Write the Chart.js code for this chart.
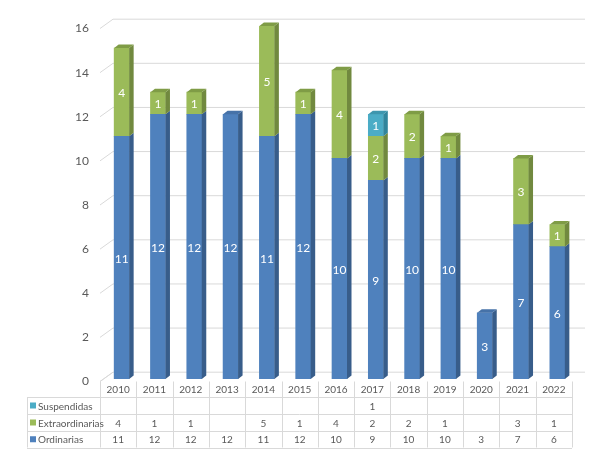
<!DOCTYPE html>
<html><head><meta charset="utf-8">
<script src="https://cdn.jsdelivr.net/npm/chart.js@4/dist/chart.umd.min.js"></script>
<style>html,body{margin:0;padding:0;background:#fff;}canvas{display:block;}</style>
</head><body>
<canvas id="c" width="605" height="455"></canvas>
<script>
const categories = ['2010','2011','2012','2013','2014','2015','2016','2017','2018','2019','2020','2021','2022'];
const ordinarias = [11,12,12,12,11,12,10,9,10,10,3,7,6];
const extraordinarias = [4,1,1,null,5,1,4,2,2,1,null,3,1];
const suspendidas = [null,null,null,null,null,null,null,1,null,null,null,null,null];
const seriesNames = ['Ordinarias','Extraordinarias','Suspendidas'];
const yTicks = [0,2,4,6,8,10,12,14,16];

const FONT = 'Lato, "Liberation Sans", sans-serif';
const colors = [
  {front:'#4F81BD', side:'#385D8A', top:'#4672A8'},
  {front:'#9BBB59', side:'#71893F', top:'#7F9C46'},
  {front:'#4BACC6', side:'#31859C', top:'#3E96AE'}
];

const threeD = {
  id:'threeD',
  beforeDatasetsDraw(chart){
    const ctx = chart.ctx, ca = chart.chartArea, y = chart.scales.y;
    const fx = ca.left - 3.5, bx = fx + 13;
    ctx.save();
    ctx.strokeStyle = '#d9d9d9'; ctx.lineWidth = 1;
    ctx.fillStyle = '#595959'; ctx.font = '12px ' + FONT;
    ctx.textAlign = 'right'; ctx.textBaseline = 'middle';
    yTicks.forEach(v => {
      const p = y.getPixelForValue(v);
      ctx.beginPath();
      ctx.moveTo(fx, p + 2.5); ctx.lineTo(bx, p - 6.8); ctx.lineTo(ca.right + 9.5, p - 6.8);
      ctx.stroke();
      ctx.fillText(String(v), fx - 11, p + 2.5);
    });
    ctx.restore();
  },
  afterDatasetsDraw(chart){
    const ctx = chart.ctx, ca = chart.chartArea, xs = chart.scales.x, ys = chart.scales.y;
    const dx = 4.5, dy = 3.5;
    const dsArrays = chart.data.datasets.map(d => d.data);
    ctx.save();
    // sides and tops
    chart.data.datasets.forEach((ds, di) => {
      const meta = chart.getDatasetMeta(di);
      meta.data.forEach((el, i) => {
        const v = ds.data[i];
        if (v == null || v === 0) return;
        const p = el.getProps(['x','y','base','width'], true);
        const xl = p.x - p.width/2, xr = p.x + p.width/2;
        const top = Math.min(p.y, p.base), bot = Math.max(p.y, p.base);
        ctx.fillStyle = colors[di].side;
        ctx.beginPath();
        ctx.moveTo(xr, bot); ctx.lineTo(xr, top); ctx.lineTo(xr + dx, top - dy); ctx.lineTo(xr + dx, bot - dy);
        ctx.closePath(); ctx.fill();
        let isTop = true;
        for (let k = di + 1; k < dsArrays.length; k++) if (dsArrays[k][i]) isTop = false;
        if (isTop) {
          ctx.fillStyle = colors[di].top;
          ctx.beginPath();
          ctx.moveTo(xl, top); ctx.lineTo(xl + dx, top - dy); ctx.lineTo(xr + dx, top - dy); ctx.lineTo(xr, top);
          ctx.closePath(); ctx.fill();
        }
      });
    });
    // value labels
    ctx.fillStyle = '#ffffff'; ctx.font = '12px ' + FONT;
    ctx.textAlign = 'center'; ctx.textBaseline = 'middle';
    chart.data.datasets.forEach((ds, di) => {
      const meta = chart.getDatasetMeta(di);
      meta.data.forEach((el, i) => {
        const v = ds.data[i];
        if (v == null || v === 0) return;
        const p = el.getProps(['x','y','base'], true);
        ctx.fillText(String(v), p.x, (p.y + p.base)/2 + 1);
      });
    });
    // data table
    const colW = (ca.right - ca.left) / categories.length;
    const x0 = xs.getPixelForValue(0) - 3.5 - colW/2;
    const x1 = x0 + colW * categories.length;
    const lx = 27;
    const hTop = ys.getPixelForValue(0) + 2.5;
    const rows = [hTop + 15.5, hTop + 32.5, hTop + 49.5, hTop + 66];
    ctx.strokeStyle = '#d9d9d9'; ctx.lineWidth = 1;
    ctx.beginPath();
    ctx.moveTo(x0, hTop); ctx.lineTo(x0 + 13, hTop - 9.3);
    rows.forEach(r => { ctx.moveTo(lx, Math.round(r) + 0.5); ctx.lineTo(x1, Math.round(r) + 0.5); });
    ctx.moveTo(lx + 0.5, rows[0]); ctx.lineTo(lx + 0.5, rows[3]);
    for (let i = 0; i <= categories.length; i++) {
      const cx = Math.round(x0 + i*colW) + 0.5;
      ctx.moveTo(cx, hTop); ctx.lineTo(cx, rows[3]);
    }
    ctx.stroke();
    ctx.fillStyle = '#595959'; ctx.font = '10px ' + FONT;
    ctx.textAlign = 'center'; ctx.textBaseline = 'middle';
    categories.forEach((c, i) => ctx.fillText(c, x0 + (i + 0.5)*colW, (hTop + rows[0])/2 + 1));
    const tableOrder = [2, 1, 0];
    tableOrder.forEach((di, r) => {
      const yc = (rows[r] + rows[r+1]) / 2 + 1;
      ctx.fillStyle = colors[di].front;
      ctx.fillRect(lx + 3, yc - 4, 6, 6);
      ctx.fillStyle = '#595959';
      ctx.textAlign = 'left';
      ctx.fillText(seriesNames[di], lx + 11, yc);
      ctx.textAlign = 'center';
      dsArrays[di].forEach((v, i) => {
        if (v == null) return;
        ctx.fillText(String(v), x0 + (i + 0.5)*colW, yc);
      });
    });
    ctx.restore();
  }
};

new Chart(document.getElementById('c'), {
  type: 'bar',
  data: {
    labels: categories,
    datasets: [
      {label: seriesNames[0], data: ordinarias, backgroundColor: colors[0].front},
      {label: seriesNames[1], data: extraordinarias, backgroundColor: colors[1].front},
      {label: seriesNames[2], data: suspendidas, backgroundColor: colors[2].front}
    ]
  },
  options: {
    responsive: false,
    animation: false,
    layout: {padding: {left: 103.5, right: 29.5, top: 26, bottom: 76}},
    datasets: {bar: {barThickness: 15}},
    plugins: {legend: {display: false}, tooltip: {enabled: false}},
    scales: {
      x: {display: false, stacked: true},
      y: {display: false, stacked: true, min: 0, max: 16}
    }
  },
  plugins: [threeD]
});
</script>
</body></html>
